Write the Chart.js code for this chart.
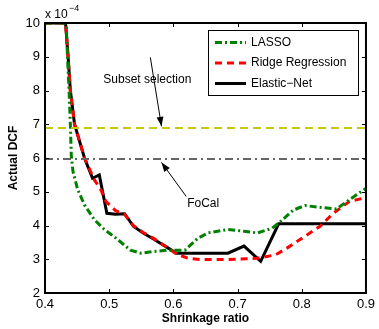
<!DOCTYPE html>
<html lang="en">
<head>
    <meta charset="UTF-8">
    <title>Actual DCF vs shrinkage ratio</title>
    <script src="https://cdn.jsdelivr.net/npm/chart.js"></script>
    <style>
        html, body { margin: 0; padding: 0; background: #fff; }
        #wrap { width: 379px; height: 329px; position: relative; }
    </style>
</head>
<body>
    <div id="wrap"><canvas id="myChart"></canvas></div>
    <script>
        // values in units of 1e-4
        const lassoX = [0.40, 0.433, 0.435, 0.4375, 0.4395, 0.441, 0.4436, 0.451, 0.4615, 0.477, 0.492, 0.513, 0.533, 0.549, 0.569, 0.590, 0.618, 0.638, 0.654, 0.685, 0.710, 0.731, 0.754, 0.767, 0.787, 0.805, 0.833, 0.854, 0.874, 0.90];
        const lassoY = [10, 10, 9.0, 8.0, 7.0, 6.05, 5.6, 5.06, 4.61, 4.17, 3.89, 3.59, 3.27, 3.18, 3.23, 3.27, 3.27, 3.62, 3.78, 3.88, 3.83, 3.78, 3.92, 4.12, 4.46, 4.59, 4.53, 4.49, 4.76, 5.1];

        const ridgeX = [0.40, 0.432, 0.436, 0.4395, 0.446, 0.4615, 0.477, 0.487, 0.495, 0.510, 0.524, 0.538, 0.554, 0.569, 0.592, 0.605, 0.623, 0.643, 0.685, 0.731, 0.759, 0.777, 0.808, 0.828, 0.849, 0.874, 0.90];
        const ridgeY = [10, 10, 9.0, 8.0, 7.0, 6.0, 5.35, 5.06, 4.71, 4.44, 4.33, 3.99, 3.78, 3.62, 3.33, 3.15, 3.03, 2.99, 2.99, 3.03, 3.13, 3.33, 3.72, 3.97, 4.36, 4.71, 4.83];

        const netX = [0.40, 0.432, 0.436, 0.4395, 0.446, 0.4615, 0.474, 0.4846, 0.4964, 0.510, 0.524, 0.538, 0.554, 0.569, 0.592, 0.605, 0.685, 0.710, 0.736, 0.764, 0.90];
        const netY = [10, 10, 9.0, 8.0, 7.0, 6.0, 5.4, 5.5, 4.36, 4.33, 4.35, 3.97, 3.76, 3.6, 3.33, 3.18, 3.18, 3.39, 2.94, 4.05, 4.05];

        const subsetLevel = 6.89;
        const focalLevel = 5.97;

        const xTicks = [0.4, 0.5, 0.6, 0.7, 0.8, 0.9];
        const yTicks = [2, 3, 4, 5, 6, 7, 8, 9, 10];

        const FONT = '"Liberation Sans", Arial, sans-serif';

        function pts(xs, ys) {
            return xs.map((x, i) => ({ x: x, y: ys[i] }));
        }

        const series = [
            { label: 'LASSO', color: '#008000', dash: [7, 3, 2, 3], width: 3, xs: lassoX, ys: lassoY },
            { label: 'Ridge Regression', color: '#ff0000', dash: [7, 5], width: 3, xs: ridgeX, ys: ridgeY },
            { label: 'Elastic\u2212Net', color: '#000000', dash: [], width: 3, xs: netX, ys: netY }
        ];

        const datasets = [
            { data: [{ x: 0.4, y: subsetLevel }, { x: 0.9, y: subsetLevel }], borderColor: '#c8c800', borderWidth: 2, borderDash: [8, 5] },
            { data: [{ x: 0.4, y: focalLevel }, { x: 0.9, y: focalLevel }], borderColor: '#666666', borderWidth: 2, borderDash: [8, 4, 2, 4] }
        ];
        series.forEach(s => datasets.push({
            label: s.label, data: pts(s.xs, s.ys), borderColor: s.color,
            borderWidth: s.width, borderDash: s.dash
        }));

        function arrow(ctx, x0, y0, x1, y1) {
            ctx.beginPath();
            ctx.moveTo(x0, y0);
            ctx.lineTo(x1, y1);
            ctx.stroke();
            const a = Math.atan2(y1 - y0, x1 - x0);
            const L = 10, W = 0.35;
            ctx.beginPath();
            ctx.moveTo(x1, y1);
            ctx.lineTo(x1 - L * Math.cos(a - W), y1 - L * Math.sin(a - W));
            ctx.lineTo(x1 - L * Math.cos(a + W), y1 - L * Math.sin(a + W));
            ctx.closePath();
            ctx.fill();
        }

        const decor = {
            id: 'decor',
            afterDatasetsDraw(chart) {
                const ctx = chart.ctx, a = chart.chartArea;
                const xs = chart.scales.x, ys = chart.scales.y;
                ctx.save();
                ctx.setLineDash([]);
                // inner ticks
                ctx.strokeStyle = '#000';
                ctx.lineWidth = 1;
                xTicks.forEach(t => {
                    const p = Math.round(xs.getPixelForValue(t)) + 0.5;
                    ctx.beginPath();
                    ctx.moveTo(p, a.bottom); ctx.lineTo(p, a.bottom - 4);
                    ctx.moveTo(p, a.top); ctx.lineTo(p, a.top + 4);
                    ctx.stroke();
                });
                yTicks.forEach(t => {
                    const p = Math.round(ys.getPixelForValue(t)) + 0.5;
                    ctx.beginPath();
                    ctx.moveTo(a.left, p); ctx.lineTo(a.left + 4, p);
                    ctx.moveTo(a.right, p); ctx.lineTo(a.right - 4, p);
                    ctx.stroke();
                });
                // box
                ctx.lineWidth = 2;
                ctx.strokeRect(a.left, a.top, a.right - a.left, a.bottom - a.top);

                // annotations
                ctx.fillStyle = '#000';
                ctx.font = '12px ' + FONT;
                ctx.textBaseline = 'middle';
                ctx.textAlign = 'left';
                ctx.fillText('Subset selection', xs.getPixelForValue(0.4908), ys.getPixelForValue(8.32));
                ctx.fillText('FoCal', xs.getPixelForValue(0.6215), ys.getPixelForValue(4.64));
                ctx.lineWidth = 1;
                arrow(ctx, xs.getPixelForValue(0.5641), ys.getPixelForValue(8.98),
                    xs.getPixelForValue(0.5815), ys.getPixelForValue(subsetLevel + 0.05));
                arrow(ctx, xs.getPixelForValue(0.6200), ys.getPixelForValue(4.86),
                    xs.getPixelForValue(0.5815), ys.getPixelForValue(focalLevel - 0.1));

                // exponent label
                ctx.font = '12px ' + FONT;
                ctx.textBaseline = 'alphabetic';
                ctx.fillText('x 10', a.left, a.top - 5);
                ctx.font = '9px ' + FONT;
                ctx.fillText('\u22124', a.left + 24, a.top - 12);

                // axis titles
                ctx.font = 'bold 12px ' + FONT;
                ctx.textAlign = 'center';
                ctx.textBaseline = 'middle';
                ctx.fillText('Shrinkage ratio', (a.left + a.right) / 2, 319);
                ctx.save();
                ctx.translate(14, (a.top + a.bottom) / 2);
                ctx.rotate(-Math.PI / 2);
                ctx.fillText('Actual DCF', 0, 0);
                ctx.restore();

                // legend
                const lx = 208, ly = 30, lw = 150, lh = 65;
                ctx.fillStyle = '#fff';
                ctx.fillRect(lx, ly, lw, lh);
                ctx.strokeStyle = '#000';
                ctx.lineWidth = 1;
                ctx.strokeRect(lx + 0.5, ly + 0.5, lw, lh);
                ctx.font = '12px ' + FONT;
                ctx.textAlign = 'left';
                series.forEach((s, i) => {
                    const y = ly + 12.5 + i * 20.5;
                    ctx.strokeStyle = s.color;
                    ctx.lineWidth = s.width;
                    ctx.setLineDash(s.dash);
                    ctx.beginPath();
                    ctx.moveTo(lx + 7, y);
                    ctx.lineTo(lx + 38, y);
                    ctx.stroke();
                    ctx.setLineDash([]);
                    ctx.fillStyle = '#000';
                    ctx.fillText(s.label, lx + 43, y);
                });
                ctx.restore();
            }
        };

        const chart = new Chart(document.getElementById('myChart'), {
            type: 'line',
            data: { datasets: datasets },
            options: {
                responsive: true,
                maintainAspectRatio: false,
                animation: false,
                parsing: true,
                elements: { point: { radius: 0 }, line: { tension: 0, fill: false } },
                layout: { padding: { top: 23, right: 9, left: 0, bottom: 0 } },
                plugins: { legend: { display: false }, tooltip: { enabled: false } },
                scales: {
                    x: {
                        type: 'linear', min: 0.4, max: 0.9,
                        afterBuildTicks: s => { s.ticks = xTicks.map(v => ({ value: v })); },
                        afterFit: s => { s.height = 36; },
                        grid: { display: false, drawTicks: false },
                        border: { display: false },
                        ticks: { color: '#000', padding: 4, maxRotation: 0, font: { family: FONT, size: 13 }, callback: v => v.toFixed(1) }
                    },
                    y: {
                        type: 'linear', min: 2, max: 10,
                        afterBuildTicks: s => { s.ticks = yTicks.map(v => ({ value: v })); },
                        afterFit: s => { s.width = 45; },
                        grid: { display: false, drawTicks: false },
                        border: { display: false },
                        ticks: { color: '#000', padding: 5, font: { family: FONT, size: 13 }, callback: v => String(v) }
                    }
                }
            },
            plugins: [decor]
        });
    </script>
</body>
</html>
